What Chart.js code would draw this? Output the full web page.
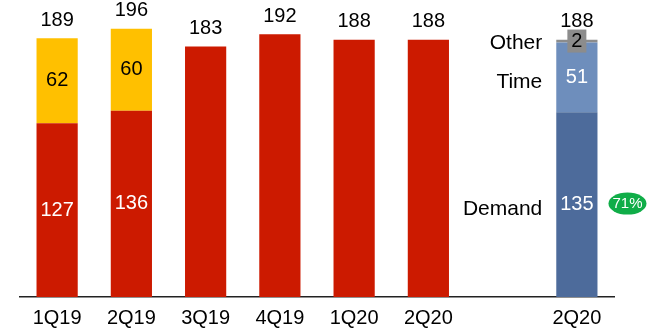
<!DOCTYPE html>
<html>
<head>
<meta charset="utf-8">
<script src="https://cdn.jsdelivr.net/npm/chart.js@4.4.0/dist/chart.umd.min.js"></script>
<style>
  html, body { margin: 0; padding: 0; background: #fff; }
  #wrap { width: 662px; height: 331px; }
</style>
</head>
<body>
<div id="wrap"><canvas id="chart" width="662" height="331"></canvas></div>
<script>
// Quarterly values (blank slot separates the breakdown bar)
const categories = ["1Q19", "2Q19", "3Q19", "4Q19", "1Q20", "2Q20", "", "2Q20"];
const baseValues = [127, 136, 183, 192, 188, 188, null, null];
const extraValues = [62, 60, null, null, null, null, null, null];
const demandValues = [null, null, null, null, null, null, null, 135];
const timeValues = [null, null, null, null, null, null, null, 51];
const otherValues = [null, null, null, null, null, null, null, 2];
const seriesNames = ["Demand", "Time", "Other"];
const demandShare = "71%";

const FONT = "'Liberation Sans', Arial, sans-serif";

// Draws totals, segment values, series names and the share badge
const labelPlugin = {
  id: "labels",
  afterDatasetsDraw(chart) {
    const ctx = chart.ctx;
    const metas = chart.data.datasets.map((d, i) => chart.getDatasetMeta(i));
    ctx.save();
    ctx.textAlign = "center";
    ctx.textBaseline = "middle";
    ctx.font = "20px " + FONT;

    categories.forEach((cat, idx) => {
      const segs = [];
      chart.data.datasets.forEach((ds, di) => {
        const v = ds.data[idx];
        if (v !== null && v !== undefined) segs.push({ ds, v, el: metas[di].data[idx] });
      });
      if (!segs.length) return;
      const total = segs.reduce((s, g) => s + g.v, 0);
      const top = Math.min(...segs.map(g => g.el.y));
      const x = segs[0].el.x;
      ctx.fillStyle = "#000";
      ctx.fillText(String(total), x, top - 18);

      if (segs.length > 1) {
        segs.forEach(g => {
          const cy = (g.el.y + g.el.base) / 2;
          if (g.ds.boxed) {
            ctx.fillStyle = g.ds.backgroundColor;
            ctx.fillRect(x - 9.5, cy - 11.5, 19, 23);
          }
          ctx.fillStyle = g.ds.labelColor;
          ctx.fillText(String(g.v), x, cy);
        });
      }
    });

    // series names beside the breakdown bar
    const last = categories.length - 1;
    ctx.textAlign = "right";
    ctx.fillStyle = "#000";
    ctx.font = "21px " + FONT;
    chart.data.datasets.forEach((ds, di) => {
      if (!ds.seriesName) return;
      const el = metas[di].data[last];
      const cy = (el.y + el.base) / 2;
      ctx.fillText(ds.seriesName, el.x - el.width / 2 - 14, cy + ds.nameShift);
    });

    // share badge next to the demand segment
    const dIdx = chart.data.datasets.findIndex(d => d.seriesName === "Demand");
    const del = metas[dIdx].data[last];
    const bx = del.x + del.width / 2 + 30;
    const by = (del.y + del.base) / 2 - 1;
    ctx.fillStyle = "#10AD48";
    ctx.beginPath();
    ctx.ellipse(bx, by, 19, 11, 0, 0, Math.PI * 2);
    ctx.fill();
    ctx.fillStyle = "#fff";
    ctx.textAlign = "center";
    ctx.font = "15px " + FONT;
    ctx.fillText(demandShare, bx, by + 0.5);
    ctx.restore();
  }
};

new Chart(document.getElementById("chart"), {
  type: "bar",
  data: {
    labels: categories,
    datasets: [
      { data: baseValues, backgroundColor: "#CC1A00", labelColor: "#fff" },
      { data: extraValues, backgroundColor: "#FFC000", labelColor: "#000" },
      { data: demandValues, backgroundColor: "#4D6B9B", labelColor: "#fff", seriesName: seriesNames[0], nameShift: 5 },
      { data: timeValues, backgroundColor: "#6E8EBC", labelColor: "#fff", seriesName: seriesNames[1], nameShift: 5 },
      { data: otherValues, backgroundColor: "#8C8C8C", labelColor: "#000", seriesName: seriesNames[2], nameShift: 2, boxed: true }
    ]
  },
  options: {
    responsive: false,
    animation: false,
    events: [],
    layout: { padding: { left: 20, right: 48, top: 0, bottom: -8 } },
    categoryPercentage: 1,
    barPercentage: 0.555,
    plugins: { legend: { display: false }, tooltip: { enabled: false } },
    scales: {
      x: {
        stacked: true,
        grid: { display: false, drawTicks: false },
        border: { display: true, color: "#222", width: 1.5 },
        ticks: { color: "#000", font: { family: FONT, size: 20 }, padding: 9 }
      },
      y: {
        stacked: true,
        display: false,
        min: 0,
        max: 217
      }
    }
  },
  plugins: [labelPlugin]
});
</script>
</body>
</html>
